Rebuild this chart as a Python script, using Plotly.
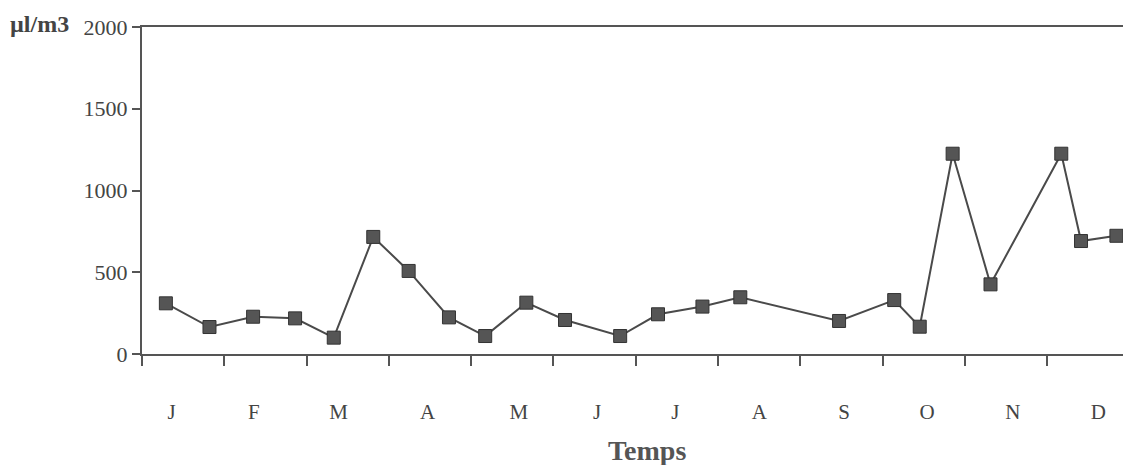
import plotly.graph_objects as go

# Sampling dates expressed in months since 1 January (0 = start of January)
sample_month = [0.29, 0.82, 1.35, 1.86, 2.33, 2.81, 3.24, 3.73, 4.17, 4.67, 5.14, 5.81,
                6.27, 6.81, 7.27, 8.47, 9.14, 9.45, 9.85, 10.31, 11.17, 11.41, 11.84]
concentration = [310, 165, 228, 218, 100, 716, 508, 224, 110, 314, 208, 110,
                 243, 290, 347, 202, 330, 167, 1225, 426, 1225, 691, 723]

month_labels = ["J", "F", "M", "A", "M", "J", "J", "A", "S", "O", "N", "D"]
month_label_pos = [0.36, 1.36, 2.39, 3.47, 4.58, 5.53, 6.48, 7.50, 8.53, 9.54, 10.58, 11.62]
month_bounds = list(range(12))
y_ticks = [0, 500, 1000, 1500, 2000]

serif = "Liberation Serif, Times New Roman, serif"
axis_col = "#555555"

fig = go.Figure()
fig.add_trace(go.Scatter(
    x=sample_month, y=concentration, mode="lines+markers",
    line=dict(color="#4a4a4a", width=2),
    marker=dict(symbol="square", size=13, color="#555555",
                line=dict(color="#333333", width=1)),
    showlegend=False, cliponaxis=False,
))

fig.update_layout(
    width=1123, height=465,
    margin=dict(l=142, r=0, t=27, b=111),
    paper_bgcolor="white", plot_bgcolor="white",
    font=dict(family=serif, color="#444444"),
    xaxis=dict(
        range=[0, 11.92], showgrid=False, zeroline=False,
        showline=True, linecolor=axis_col, linewidth=2, mirror=True,
        tickvals=month_label_pos, ticktext=month_labels,
        ticks="", ticklabelstandoff=38,
        tickfont=dict(size=21, family=serif, color="#444444"),
        minor=dict(tickvals=month_bounds, ticks="outside", ticklen=10,
                   tickwidth=2, tickcolor=axis_col),
    ),
    yaxis=dict(
        range=[0, 2000], tickvals=y_ticks, showgrid=False, zeroline=False,
        showline=True, linecolor=axis_col, linewidth=2,
        ticks="outside", ticklen=8, tickwidth=2, tickcolor=axis_col,
        tickfont=dict(size=22, family=serif, color="#444444"),
    ),
    annotations=[
        dict(text="<b>µl/m3</b>", xref="paper", yref="paper", x=-0.137, y=1.01,
             xanchor="left", yanchor="middle", showarrow=False,
             font=dict(size=24, family=serif, color="#444444")),
        dict(text="<b>Temps</b>", xref="paper", yref="paper", x=0.515, y=-0.295,
             xanchor="center", yanchor="middle", showarrow=False,
             font=dict(size=28, family=serif, color="#555555")),
    ],
)

fig.write_html("out.html")
